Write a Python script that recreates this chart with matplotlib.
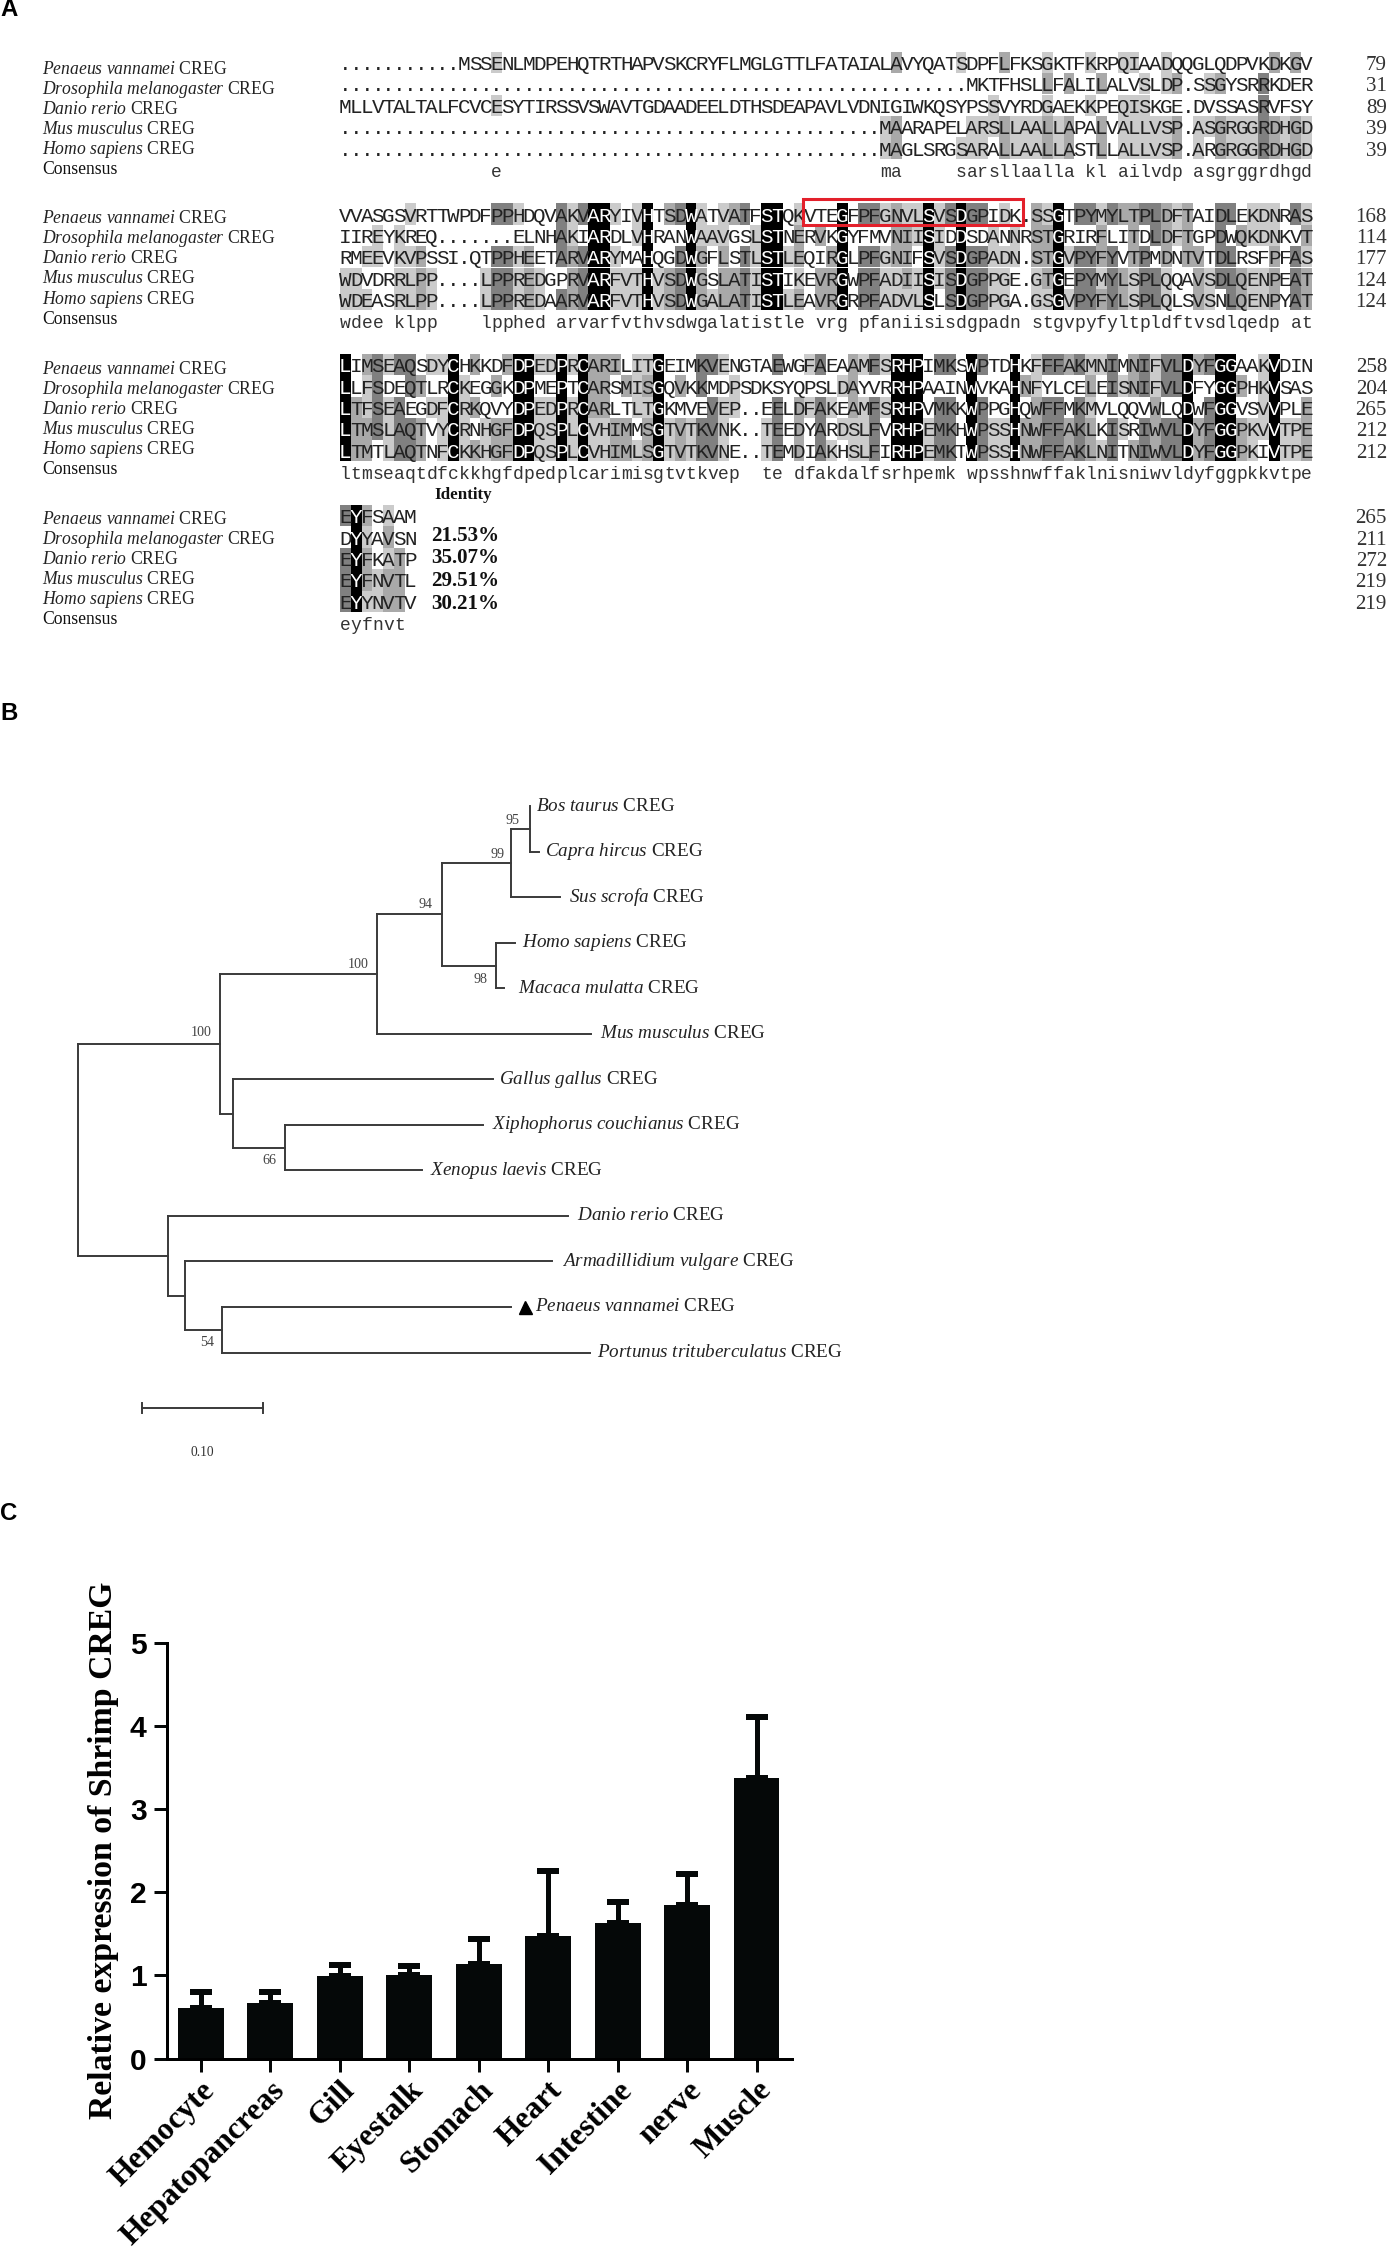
import matplotlib
matplotlib.use('Agg')
import matplotlib.pyplot as plt
from matplotlib import font_manager
from matplotlib.patches import Rectangle

plt.rcParams['mathtext.fontset'] = 'custom'
plt.rcParams['mathtext.it'] = 'Liberation Serif:italic'
plt.rcParams['mathtext.rm'] = 'Liberation Serif'
plt.rcParams['font.family'] = 'Liberation Serif'

# panel A: alignment
species = ['Penaeus vannamei', 'Drosophila melanogaster', 'Danio rerio', 'Mus musculus', 'Homo sapiens']

block1 = ['...........MSSENLMDPEHQTRTHAPVSKCRYFLMGLGTTLFATAIALAVYQATSDPFLFKSGKTFKRPQIAADQQGLQDPVKDKGV',
          '..........................................................MKTFHSLLFALILALVSLDP.SSGYSRRKDER',
          'MLLVTALTALFCVCESYTIRSSVSWAVTGDAADEELDTHSDEAPAVLVDNIGIWKQSYPSSVYRDGAEKKPEQISKGE.DVSSASRVFSY',
          '..................................................MAARAPELARSLLAALLAPALVALLVSP.ASGRGGRDHGD',
          '..................................................MAGLSRGSARALLAALLASTLLALLVSP.ARGRGGRDHGD']
cons1 = '              e                                   ma     sarsllaalla kl ailvdp asgrggrdhgd'
ends1 = [79, 31, 89, 39, 39]

block2 = ['VVASGSVRTTWPDFPPHDQVAKVARYIVHTSDWATVATFSTQKVTEGFPFGNVLSVSDGPIDK.SSGTPYMYLTPLDFTAIDLEKDNRAS',
          'IIREYKREQ.......ELNHAKIARDLVHRANWAAVGSLSTNERVKGYFMVNIISIDDSDANNRSTGRIRFLITDLDFTGPDWQKDNKVT',
          'RMEEVKVPSSI.QTPPHEETARVARYMAHQGDWGFLSTLSTLEQIRGLPFGNIFSVSDGPADN.STGVPYFYVTPMDNTVTDLRSFPFAS',
          'WDVDRRLPP....LPPREDGPRVARFVTHVSDWGSLATISTIKEVRGWPFADIISISDGPPGE.GTGEPYMYLSPLQQAVSDLQENPEAT',
          'WDEASRLPP....LPPREDAARVARFVTHVSDWGALATISTLEAVRGRPFADVLSLSDGPPGA.GSGVPYFYLSPLQLSVSNLQENPYAT']
cons2 = 'wdee klpp    lpphed arvarfvthvsdwgalatistle vrg pfaniisisdgpadn stgvpyfyltpldftvsdlqedp at'
ends2 = [168, 114, 177, 124, 124]

block3 = ['LIMSEAQSDYCHKKDFDPEDPRCARILITGEIMKVENGTAEWGFAEAAMFSRHPIMKSWPTDHKFFFAKMNIMNIFVLDYFGGAAKVDIN',
          'LLFSDEQTLRCKEGGKDPMEPTCARSMISGQVKKMDPSDKSYQPSLDAYVRRHPAAINWVKAHNFYLCELEISNIFVLDFYGGPHKVSAS',
          'LTFSEAEGDFCRKQVYDPEDPRCARLTLTGKMVEVEP..EELDFAKEAMFSRHPVMKKWPPGHQWFFMKMVLQQVWLQDWFGGVSVVPLE',
          'LTMSLAQTVYCRNHGFDPQSPLCVHIMMSGTVTKVNK..TEEDYARDSLFVRHPEMKHWPSSHNWFFAKLKISRIWVLDYFGGPKVVTPE',
          'LTMTLAQTNFCKKHGFDPQSPLCVHIMLSGTVTKVNE..TEMDIAKHSLFIRHPEMKTWPSSHNWFFAKLNITNIWVLDYFGGPKIVTPE']
cons3 = 'ltmseaqtdfckkhgfdpedplcarimisgtvtkvep  te dfakdalfsrhpemk wpsshnwffaklnisniwvldyfggpkkvtpe'
ends3 = [258, 204, 265, 212, 212]

block4 = ['EYFSAAM', 'DYYAVSN', 'EYFKATP', 'EYFNVTL', 'EYYNVTV']
cons4 = 'eyfnvt'
ends4 = [265, 211, 272, 219, 219]
identity = ['21.53%', '35.07%', '29.51%', '30.21%']

# panel B: tree, depth in substitutions per site
leaf_names = ['Bos taurus', 'Capra hircus', 'Sus scrofa', 'Homo sapiens', 'Macaca mulatta', 'Mus musculus',
              'Gallus gallus', 'Xiphophorus couchianus', 'Xenopus laevis', 'Danio rerio',
              'Armadillidium vulgare', 'Penaeus vannamei', 'Portunus trituberculatus']
leaf_depth = [0.375, 0.383, 0.400, 0.363, 0.354, 0.426, 0.345, 0.336, 0.286, 0.407, 0.394, 0.360, 0.425]
leaf_gap = [7, 6, 9, 7, 14, 9, 6, 9, 8, 9, 10, 24, 7]
node_depth = {'root': 0.0, 'a': 0.118, 'b': 0.248, 'c': 0.302, 'd': 0.360, 'e': 0.375, 'f': 0.347,
              'g': 0.129, 'h': 0.172, 'i': 0.075, 'j': 0.089, 'k': 0.120}
node_children = {'root': ['a', 'i'], 'a': ['b', 'g'], 'b': ['c', 5], 'c': ['d', 'f'], 'd': ['e', 2],
                 'e': [0, 1], 'f': [3, 4], 'g': [6, 'h'], 'h': [7, 8], 'i': [9, 'j'], 'j': [10, 'k'],
                 'k': [11, 12]}
node_support = {'e': 95, 'd': 99, 'c': 94, 'b': 100, 'a': 100, 'f': 98, 'h': 66, 'k': 54}
support_offset = {'e': (-17, 9), 'd': (-14, 9), 'c': (-16, 10), 'b': (-18, 10), 'a': (-19, 11),
                  'f': (-15, -14), 'h': (-16, -13), 'k': (-15, -13)}

# panel C: bars
tissues = ['Hemocyte', 'Hepatopancreas', 'Gill', 'Eyestalk', 'Stomach', 'Heart', 'Intestine', 'nerve', 'Muscle']
expression = [0.61, 0.67, 0.99, 1.00, 1.14, 1.475, 1.625, 1.845, 3.37]
err_top = [0.80, 0.80, 1.13, 1.11, 1.44, 2.25, 1.88, 2.22, 4.11]

W, H = 1399, 2258
fig = plt.figure(figsize=(W / 100, H / 100), dpi=100, facecolor='white')


def px(v):
    return v * 0.72


names = [f.name for f in font_manager.fontManager.ttflist]
seq_font = 'Liberation Sans Narrow' if 'Liberation Sans Narrow' in names else 'Liberation Mono'

ax = fig.add_axes([0, 0, 1, 1])
ax.set_xlim(0, W)
ax.set_ylim(H, 0)
ax.axis('off')

x0 = 340
cw = 10.8
rh = 21.4
shade = {2: '#cbcbcb', 3: '#a9a9a9', 4: '#808080', 5: '#000000'}


def draw_block(rows, cons, ends, top, label_top):
    for col in range(max(len(r) for r in rows)):
        chars = [r[col] if col < len(r) else '.' for r in rows]
        for i, ch in enumerate(chars):
            n = chars.count(ch) if ch != '.' else 0
            if n >= 2:
                ax.add_patch(Rectangle((x0 + col * cw, top + i * rh), cw, rh, color=shade[n], lw=0, zorder=1))
    for i, r in enumerate(rows):
        base = top + (i + 0.5) * rh + 7.5
        for col, ch in enumerate(r):
            n = sum(1 for q in rows if col < len(q) and q[col] == ch)
            c = 'white' if n == 5 else '#222222'
            ax.text(x0 + (col + 0.5) * cw, base, ch, family=seq_font, fontsize=px(21), color=c,
                    ha='center', va='baseline', zorder=3)
        ax.text(1387, base, str(ends[i]), fontsize=px(21), color='#333333', ha='right', va='baseline')
    for col, ch in enumerate(cons):
        ax.text(x0 + (col + 0.5) * cw, top + 5 * rh + 18, ch, family='Liberation Mono', fontsize=px(18),
                color='#333333', ha='center', va='baseline')
    for i, s in enumerate(species):
        ax.text(42.5, label_top + i * 20.2, r'$\mathit{%s}$ CREG' % s.replace(' ', r'\ '), fontsize=px(17.6),
                color='#222222', ha='left', va='center')
    ax.text(42.5, label_top + 5 * 20.2, 'Consensus', fontsize=px(17.6), color='#111111', ha='left', va='center')


draw_block(block1, cons1, ends1, 51.7, 69)
draw_block(block2, cons2, ends2, 203.3, 218.3)
draw_block(block3, cons3, ends3, 354, 369)
draw_block(block4, cons4, ends4, 505, 519)

ax.add_patch(Rectangle((x0 + 42.9 * cw, 199), 20.3 * cw, 26, fill=False, ec='#e3202b', lw=2.2, zorder=4))
ax.text(463, 495, 'Identity', fontsize=px(17), fontweight='bold', color='#111111', ha='center', va='center')
for i, t in enumerate(identity):
    ax.text(431, 535.7 + i * 22.7, t, fontsize=px(21), fontweight='bold', color='#111111', ha='left', va='center')

for letter, y in zip('ABC', [9, 714, 1513]):
    ax.text(0, y, letter, family='Liberation Sans', fontsize=px(24), fontweight='bold', ha='left', va='center')

# panel B
tx = fig.add_axes([78 / W, 1 - 1352.5 / H, 602 / W, (1352.5 - 806.4) / H])
tx.set_xlim(0, 0.5)
tx.set_ylim(12, 0)
tx.axis('off')


def pos(n):
    if isinstance(n, int):
        return leaf_depth[n], float(n)
    kids = node_children[n]
    return node_depth[n], sum(pos(k)[1] for k in kids) / len(kids)


for n, kids in node_children.items():
    nx, ny = pos(n)
    ys = [pos(k)[1] for k in kids]
    tx.plot([nx, nx], [min(ys), max(ys)], color='#3a3a3a', lw=1.4, clip_on=False, solid_capstyle='projecting')
    for k in kids:
        kx, ky = pos(k)
        tx.plot([nx, kx], [ky, ky], color='#3a3a3a', lw=1.4, clip_on=False, solid_capstyle='projecting')
    if n in node_support:
        tx.annotate(str(node_support[n]), (nx, ny), xytext=(px(support_offset[n][0]), px(support_offset[n][1])),
                    textcoords='offset points', fontsize=px(14), color='#444444', ha='center', va='center')

for i, name in enumerate(leaf_names):
    tx.annotate(r'$\mathit{%s}$ CREG' % name.replace(' ', r'\ '), (leaf_depth[i], i),
                xytext=(px(leaf_gap[i]), 0), textcoords='offset points', fontsize=px(19.2), color='#222222',
                ha='left', va='center', annotation_clip=False)
tx.plot([leaf_depth[11] + 14 / 1204], [11], marker='^', ms=px(13), color='black', clip_on=False)

bar_left, bar_right = 0.0534, 0.1534
tx.plot([bar_left, bar_right], [13.22, 13.22], color='#3a3a3a', lw=1.4, clip_on=False)
for b in [bar_left, bar_right]:
    tx.plot([b, b], [13.11, 13.33], color='#3a3a3a', lw=1.4, clip_on=False)
tx.text((bar_left + bar_right) / 2, 14.2, '0.10', fontsize=px(13.5), color='#333333', ha='center', va='center')

# panel C
bx = fig.add_axes([166.6 / W, 1 - 2058.7 / H, (792 - 166.6) / W, (2058.7 - 1642.6) / H])
xpos = list(range(len(tissues)))
bx.bar(xpos, expression, width=0.66, color='#050808')
bx.errorbar(xpos, expression, yerr=[[0] * len(xpos), [t - v for t, v in zip(err_top, expression)]], fmt='none',
            ecolor='#050808', elinewidth=px(5), capsize=px(11.5), capthick=px(6))
bx.set_xlim(-0.49, 8.51)
bx.set_ylim(0, 5)
bx.set_yticks([0, 1, 2, 3, 4, 5])
bx.set_xticks(xpos)
bx.set_xticklabels(tissues, rotation=45, ha='right', rotation_mode='anchor', fontsize=px(31.5), fontweight='bold',
                   family='Liberation Serif')
for lab in bx.get_yticklabels():
    lab.set_family('Liberation Sans')
    lab.set_fontweight('bold')
    lab.set_fontsize(px(30))
bx.tick_params(axis='both', width=px(3), length=px(13), color='#050808', pad=5)
bx.tick_params(axis='x', pad=3)
for s in ['top', 'right']:
    bx.spines[s].set_visible(False)
for s in ['left', 'bottom']:
    bx.spines[s].set_linewidth(px(3))
bx.set_ylabel('Relative expression of Shrimp CREG', fontsize=px(33.8), fontweight='bold', family='Liberation Serif')
bx.yaxis.set_label_coords((119 - 166.6) / (792 - 166.6), 0.50)

fig.savefig('out.png', dpi=100)
